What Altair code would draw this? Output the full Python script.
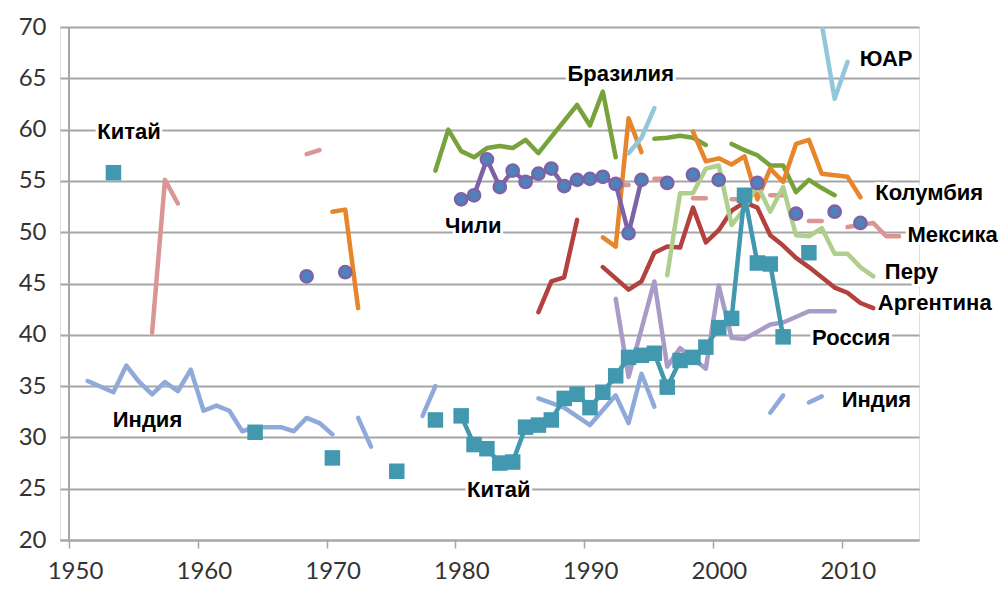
import altair as alt
import pandas as pd

# ---------------- data ----------------
# China (teal squares)
china_years = [1953, 1964, 1970, 1975, 1978, 1980, 1981, 1982, 1983, 1984, 1985, 1986, 1987, 1988,
               1989, 1990, 1991, 1992, 1993, 1994, 1995, 1996, 1997, 1998, 1999, 2000, 2001, 2002,
               2003, 2004, 2005, 2007]
china_values = [55.8, 30.5, 28.0, 26.7, 31.7, 32.1, 29.3, 28.9, 27.5, 27.6, 31.0, 31.2, 31.7, 33.8,
                34.2, 32.9, 34.4, 36.0, 37.8, 38.0, 38.2, 34.9, 37.5, 37.8, 38.8, 40.7, 41.6, 53.6,
                47.0, 46.9, 39.8, 48.0]
china_breaks = [1964, 1970, 1975, 1978, 1980, 2007]

# Chile (blue circles, purple line)
chile_years = [1968, 1971, 1980, 1981, 1982, 1983, 1984, 1985, 1986, 1987, 1988, 1989, 1990, 1991,
               1992, 1993, 1994, 1996, 1998, 2000, 2003, 2006, 2009, 2011]
chile_values = [45.7, 46.1, 53.2, 53.6, 57.1, 54.4, 56.0, 54.9, 55.7, 56.2, 54.5, 55.1, 55.2, 55.4,
                54.7, 49.9, 55.1, 54.8, 55.6, 55.1, 54.8, 51.8, 52.0, 50.9]
chile_breaks = [1971, 1980, 1996, 1998, 2000, 2003, 2006, 2009, 2011]

# India
india_years = [1951, 1953, 1954, 1955, 1956, 1957, 1958, 1959, 1960, 1961, 1962, 1963, 1964, 1965,
               1966, 1967, 1968, 1969, 1970, 1972, 1973, 1977, 1978, 1986, 1988, 1990, 1992, 1993,
               1994, 1995, 2004, 2005, 2007, 2008]
india_values = [35.5, 34.4, 37.0, 35.4, 34.2, 35.4, 34.5, 36.6, 32.6, 33.1, 32.6, 30.6, 31.0, 31.0,
                31.0, 30.6, 31.9, 31.4, 30.3, 31.9, 29.1, 32.1, 35.0, 33.8, 32.9, 31.2, 34.1, 31.4,
                36.2, 33.0, 32.4, 34.1, 33.4, 34.0]
india_breaks = [1972, 1977, 1986, 2004, 2007]

# Mexico
mexico_years = [1956, 1957, 1958, 1968, 1969, 1992, 1993, 1995, 1996, 1998, 1999, 2001, 2002,
                2004, 2005, 2007, 2008, 2010, 2011, 2012, 2013, 2014]
mexico_values = [40.2, 55.1, 52.8, 57.6, 58.0, 54.6, 54.6, 55.2, 55.2, 53.3, 53.3, 53.2, 53.2,
                 53.6, 53.6, 51.1, 51.1, 50.5, 50.7, 50.9, 49.6, 49.6]
mexico_breaks = [1968, 1992, 1995, 1998, 2001, 2004, 2007, 2010]

# Argentina
argentina_years = [1986, 1987, 1988, 1989, 1991, 1993, 1994, 1995, 1996, 1997, 1998, 1999, 2000,
                   2001, 2002, 2003, 2004, 2005, 2006, 2007, 2008, 2009, 2010, 2011, 2012]
argentina_values = [42.2, 45.2, 45.6, 51.2, 46.6, 44.4, 45.2, 48.0, 48.6, 48.5, 52.4, 49.0, 50.2,
                    52.1, 52.9, 52.4, 49.7, 48.7, 47.5, 46.6, 45.6, 44.6, 44.1, 43.1, 42.6]
argentina_breaks = [1991]

# Brazil
brazil_years = [1978, 1979, 1980, 1981, 1982, 1983, 1984, 1985, 1986, 1987, 1989, 1990, 1991, 1992,
                1995, 1996, 1997, 1998, 1999, 2001, 2002, 2003, 2004, 2005, 2006, 2007, 2008, 2009]
brazil_values = [56.0, 60.0, 57.9, 57.3, 58.2, 58.4, 58.2, 59.0, 57.7, 59.3, 62.4, 60.4, 63.7, 57.3,
                 59.1, 59.2, 59.4, 59.2, 58.5, 58.6, 58.0, 57.5, 56.5, 56.5, 53.9, 55.1, 54.3, 53.6]
brazil_breaks = [1995, 2001]

# Colombia
colombia_years = [1970, 1971, 1972, 1991, 1992, 1993, 1994, 1998, 1999, 2000, 2001, 2002, 2003,
                  2004, 2005, 2006, 2007, 2008, 2010, 2011]
colombia_values = [52.0, 52.2, 42.6, 49.5, 48.6, 61.1, 57.8, 59.8, 56.9, 57.2, 56.6, 57.4, 53.2,
                   56.2, 54.9, 58.6, 59.0, 55.7, 55.4, 53.4]
colombia_breaks = [1991, 1998]

# Peru
peru_years = [1996, 1997, 1998, 1999, 2000, 2001, 2002, 2003, 2004, 2005, 2006, 2007, 2008, 2009,
              2010, 2011, 2012]
peru_values = [45.8, 53.8, 53.8, 56.2, 56.5, 50.7, 52.3, 54.6, 52.0, 54.4, 49.7, 49.6, 50.4, 47.9,
               47.9, 46.6, 45.7]
peru_breaks = []

# Russia (lavender)
russia_years = [1992, 1993, 1995, 1996, 1997, 1999, 2000, 2001, 2002, 2003, 2004, 2005, 2007, 2009]
russia_values = [43.5, 35.9, 45.2, 36.9, 38.7, 36.7, 44.8, 39.7, 39.6, 40.3, 41.0, 41.2, 42.3, 42.3]
russia_breaks = []

# South Africa
sa_years = [1993, 1994, 1995, 2008, 2009, 2010]
sa_values = [57.7, 59.2, 62.1, 70.3, 63.0, 66.6]
sa_breaks = [2008]

# labels
label_texts = ["Китай", "Бразилия", "ЮАР", "Чили", "Колумбия", "Мексика", "Перу", "Аргентина",
               "Россия", "Индия", "Индия", "Китай"]
label_years = [1952.2, 1988.7, 2011.4, 1979.2, 2012.6, 2015.1, 2013.35, 2012.8, 2007.7, 2010.0,
               1953.4, 1980.9]
label_values = [59.75, 65.4, 66.85, 50.6, 53.8, 49.7, 46.1, 43.1, 39.7, 33.6, 31.7, 24.9]

x_ticks = [1950, 1960, 1970, 1980, 1990, 2000, 2010]
y_ticks = [20, 25, 30, 35, 40, 45, 50, 55, 60, 65, 70]

# ---------------- build tables ----------------
series_defs = [
    ("india", india_years, india_values, india_breaks, "#8FAADA"),
    ("mexico", mexico_years, mexico_values, mexico_breaks, "#D99694"),
    ("argentina", argentina_years, argentina_values, argentina_breaks, "#B3423F"),
    ("brazil", brazil_years, brazil_values, brazil_breaks, "#78A23C"),
    ("colombia", colombia_years, colombia_values, colombia_breaks, "#E6852C"),
    ("peru", peru_years, peru_values, peru_breaks, "#AFCF8C"),
    ("sa", sa_years, sa_values, sa_breaks, "#92C6DA"),
    ("russia", russia_years, russia_values, russia_breaks, "#A99BC8"),
    ("china", china_years, china_values, china_breaks, "#4198AF"),
    ("chile", chile_years, chile_values, chile_breaks, "#7D62A6"),
]

rows = []
for order, (name, yrs, vals, brks, _c) in enumerate(series_defs):
    seg = 0
    for y, v in zip(yrs, vals):
        if y in brks:
            seg += 1
        rows.append({"series": name, "year": y, "value": v, "seg": f"{name}-{seg}", "ord": order})
df = pd.DataFrame(rows)

color_scale = alt.Scale(domain=[s[0] for s in series_defs], range=[s[4] for s in series_defs])

xscale = alt.Scale(domain=[1949.3, 2016.0], nice=False, zero=False)
yscale = alt.Scale(domain=[20, 70], nice=False, zero=False)

base = alt.Chart(df).transform_calculate(xpos="datum.year + 0.45")

xenc = alt.X("xpos:Q", scale=xscale,
             axis=alt.Axis(values=x_ticks, format="d", title=None, grid=False,
                           labelFont="Lato", labelFontSize=24, labelColor="#333333",
                           domainColor="#A6A6A6", domainWidth=2, tickColor="#A6A6A6",
                           tickWidth=1.5, tickSize=8, labelPadding=11, labelOffset=6))
yenc = alt.Y("value:Q", scale=yscale,
             axis=alt.Axis(values=y_ticks, title=None, grid=True, gridColor="#A6A6A6",
                           gridWidth=2, domain=False, ticks=False, labelFont="Lato",
                           labelFontSize=24, labelColor="#333333", labelPadding=14))

yaxis_line = alt.Chart(pd.DataFrame({"x": [1950]})).mark_rule(
    color="#A6A6A6", strokeWidth=2).encode(
    x=alt.X("x:Q", scale=xscale), y=alt.value(0), y2=alt.value(513))

lines = base.mark_line(strokeWidth=4.5, strokeCap="round", strokeJoin="round", clip=True).encode(
    x=xenc, y=yenc,
    color=alt.Color("series:N", scale=color_scale, legend=None),
    detail="seg:N",
    order=alt.Order("ord:Q"),
)

china_pts = base.transform_filter(alt.datum.series == "china").mark_point(
    shape="square", filled=True, size=240, color="#4198AF", opacity=1).encode(
    x=alt.X("xpos:Q", scale=xscale), y=alt.Y("value:Q", scale=yscale))

chile_pts = base.transform_filter(alt.datum.series == "chile").mark_point(
    shape="circle", filled=True, size=150, fill="#4F81BD", stroke="#7D62A6", strokeWidth=2.5,
    opacity=1).encode(
    x=alt.X("xpos:Q", scale=xscale), y=alt.Y("value:Q", scale=yscale))

labels_df = pd.DataFrame({"text": label_texts, "year": label_years, "value": label_values})
lab_base = alt.Chart(labels_df).encode(
    x=alt.X("year:Q", scale=xscale), y=alt.Y("value:Q", scale=yscale), text="text:N")
halo = lab_base.mark_text(align="left", baseline="middle", font="Liberation Sans",
                          fontWeight="bold", fontSize=22, stroke="white", strokeWidth=6,
                          strokeJoin="round", fill="white")
labels = lab_base.mark_text(align="left", baseline="middle", font="Liberation Sans",
                            fontWeight="bold", fontSize=22, color="black")

chart = alt.layer(yaxis_line, lines, china_pts, chile_pts, halo, labels).properties(
    width=859, height=513,
    autosize=alt.AutoSizeParams(type="none"),
    padding={"left": 52, "top": 19, "right": 81, "bottom": 42},
).configure_view(strokeWidth=0).configure(background="white")

chart.save("out.html", embed_options={"renderer": "svg", "actions": False})
